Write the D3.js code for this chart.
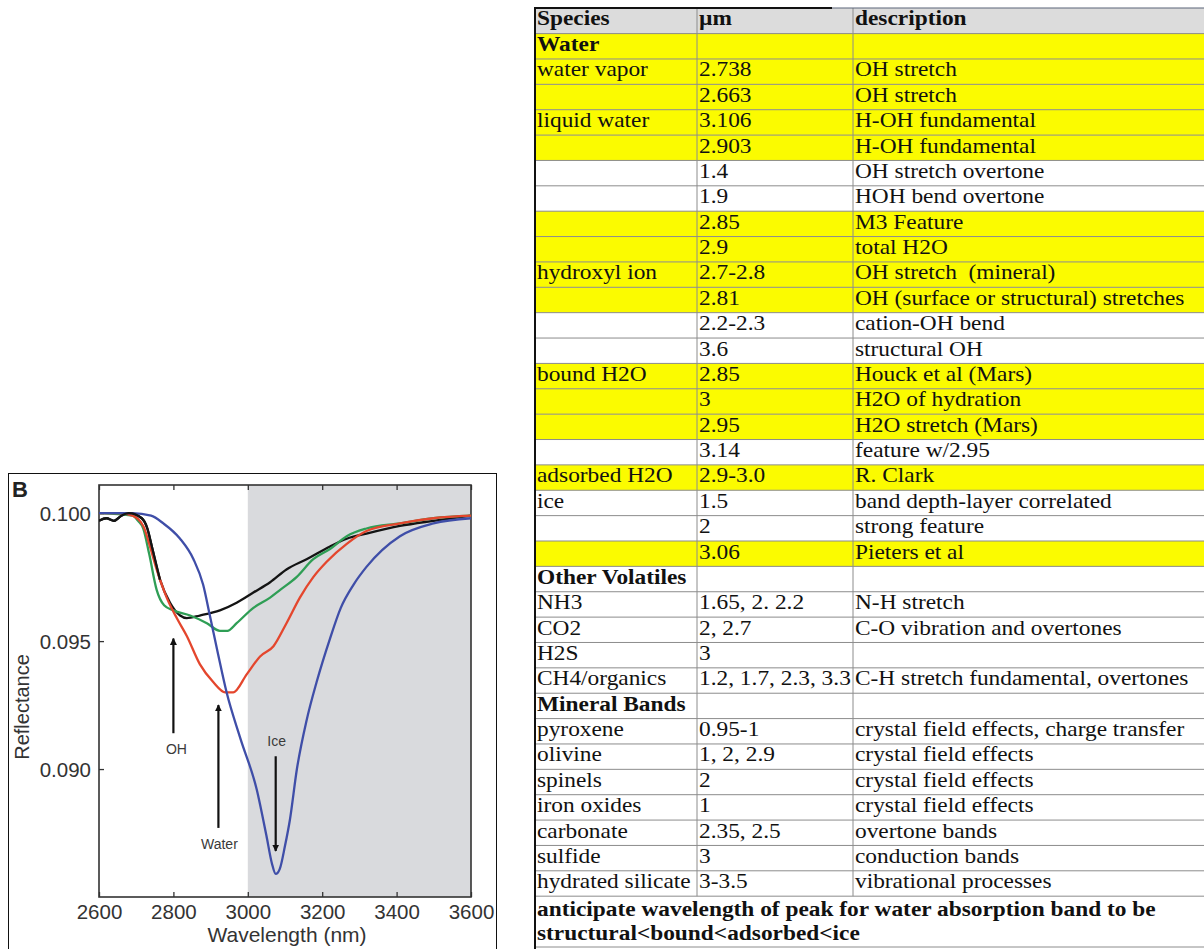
<!DOCTYPE html>
<html>
<head>
<meta charset="utf-8">
<script src="https://cdn.jsdelivr.net/npm/d3@7"></script>
<style>
  html, body { margin: 0; padding: 0; background: #fff; }
  svg { display: block; }
</style>
</head>
<body>
<svg id="c" width="1204" height="949"></svg>
<script>
// ---------------- DATA ----------------
const xTicks = [2600, 2800, 3000, 3200, 3400, 3600];
const yTicks = [0.090, 0.095, 0.100];
const xLabel = "Wavelength (nm)";
const yLabel = "Reflectance";
const panelLabel = "B";
const shadeRange = [3000, 3600];

// [wavelength nm, reflectance]
const iceSeries = [
  [2600, 0.1000], [2690, 0.1000], [2740, 0.0999], [2773, 0.0996], [2818, 0.0990],
  [2854, 0.0982], [2880, 0.0972], [2898, 0.0960], [2920, 0.0945], [2943, 0.0930],
  [2980, 0.0912], [3024, 0.0892], [3050, 0.0874], [3065, 0.0863], [3075, 0.0859],
  [3086, 0.0861], [3100, 0.0870], [3113, 0.0880], [3132, 0.0900], [3158, 0.0919],
  [3185, 0.0934], [3221, 0.0951], [3250, 0.0963], [3284, 0.0972], [3319, 0.0979],
  [3409, 0.0991], [3499, 0.0996], [3600, 0.0998]
];
const waterSeries = [
  [2600, 0.1000], [2650, 0.1000], [2690, 0.0999], [2719, 0.0995], [2737, 0.0987],
  [2755, 0.0978], [2782, 0.0967], [2809, 0.0959], [2836, 0.0952], [2871, 0.0941],
  [2907, 0.0934], [2939, 0.0930], [2961, 0.0930], [2997, 0.0937], [3033, 0.0944],
  [3069, 0.0948], [3104, 0.0957], [3140, 0.0967], [3176, 0.0975], [3212, 0.0981],
  [3266, 0.0988], [3319, 0.0993], [3409, 0.0996], [3499, 0.0998], [3600, 0.0999]
];
const greenSeries = [
  [2600, 0.1000], [2690, 0.0999], [2705, 0.0997], [2719, 0.0994], [2735, 0.0984],
  [2755, 0.0970], [2775, 0.0964], [2800, 0.0962], [2845, 0.0960], [2890, 0.0957],
  [2925, 0.0954], [2945, 0.0954], [2970, 0.0957], [3015, 0.0963], [3060, 0.0967],
  [3087, 0.0970], [3131, 0.0975], [3176, 0.0982], [3221, 0.0986], [3266, 0.0991],
  [3319, 0.0994], [3409, 0.0996], [3499, 0.0998], [3600, 0.0999]
];
const blackSeries = [
  [2600, 0.0997], [2620, 0.0998], [2640, 0.0997], [2660, 0.0999], [2680, 0.1000],
  [2715, 0.0998], [2730, 0.0994], [2742, 0.0987], [2764, 0.0974], [2791, 0.0965],
  [2818, 0.0960], [2836, 0.0959], [2871, 0.0960], [2925, 0.0962], [2970, 0.0965],
  [3015, 0.0969], [3060, 0.0973], [3104, 0.0978], [3158, 0.0982], [3221, 0.0987],
  [3266, 0.0990], [3319, 0.0992], [3409, 0.0995], [3499, 0.0997], [3600, 0.0999]
];

// arrows: label, wavelength, reflectance at tail, reflectance at head
const arrowLabels = ["OH", "Water", "Ice"];
const arrowWl = [2800, 2921, 3075];
const arrowFrom = [0.09140, 0.08770, 0.09050];
const arrowTo = [0.09510, 0.09250, 0.08680];

// table
const tableHeader = ["Species", "µm", "description"];
const tableRows = [
  ["Water", "", ""],
  ["water vapor", "2.738", "OH stretch"],
  ["", "2.663", "OH stretch"],
  ["liquid water", "3.106", "H-OH fundamental"],
  ["", "2.903", "H-OH fundamental"],
  ["", "1.4", "OH stretch overtone"],
  ["", "1.9", "HOH bend overtone"],
  ["", "2.85", "M3 Feature"],
  ["", "2.9", "total H2O"],
  ["hydroxyl ion", "2.7-2.8", "OH stretch  (mineral)"],
  ["", "2.81", "OH (surface or structural) stretches"],
  ["", "2.2-2.3", "cation-OH bend"],
  ["", "3.6", "structural OH"],
  ["bound H2O", "2.85", "Houck et al (Mars)"],
  ["", "3", "H2O of hydration"],
  ["", "2.95", "H2O stretch (Mars)"],
  ["", "3.14", "feature w/2.95"],
  ["adsorbed H2O", "2.9-3.0", "R. Clark"],
  ["ice", "1.5", "band depth-layer correlated"],
  ["", "2", "strong feature"],
  ["", "3.06", "Pieters et al"],
  ["Other Volatiles", "", ""],
  ["NH3", "1.65, 2. 2.2", "N-H stretch"],
  ["CO2", "2, 2.7", "C-O vibration and overtones"],
  ["H2S", "3", ""],
  ["CH4/organics", "1.2, 1.7, 2.3, 3.3", "C-H stretch fundamental, overtones"],
  ["Mineral Bands", "", ""],
  ["pyroxene", "0.95-1", "crystal field effects, charge transfer"],
  ["olivine", "1, 2, 2.9", "crystal field effects"],
  ["spinels", "2", "crystal field effects"],
  ["iron oxides", "1", "crystal field effects"],
  ["carbonate", "2.35, 2.5", "overtone bands"],
  ["sulfide", "3", "conduction bands"],
  ["hydrated silicate", "3-3.5", "vibrational processes"]
];
const highlightedRows = [0,1,2,3,4,7,8,9,10,13,14,15,17,20];
const sectionRows = [0, 21, 26];
const footnoteLines = [
  "anticipate wavelength of peak for water absorption band to be",
  "structural<bound<adsorbed<ice"
];

// ---------------- DRAW ----------------
const svg = d3.select("#c");
const sansFont = "'Liberation Sans', Arial, Helvetica, sans-serif";
const serifFont = "'Liberation Serif', 'Times New Roman', Times, serif";

// ===== Chart panel =====
const P = { left: 99, right: 471, top: 485, bottom: 897 };
const x = d3.scaleLinear().domain([2600, 3600]).range([P.left, P.right]);
const y = d3.scaleLinear().domain([0.085, 0.1011]).range([P.bottom, P.top]);

// outer frame
svg.append("rect").attr("x", 8.5).attr("y", 473.5).attr("width", 488).attr("height", 480)
  .attr("fill", "#fff").attr("stroke", "#111").attr("stroke-width", 1);

// shaded region
svg.append("rect")
  .attr("x", x(shadeRange[0])).attr("y", P.top)
  .attr("width", x(shadeRange[1]) - x(shadeRange[0]))
  .attr("height", P.bottom - P.top)
  .attr("fill", "#d9dadd");

// axes (ticks inward)
const gx = svg.append("g").attr("transform", `translate(0,${P.bottom})`)
  .call(d3.axisBottom(x).tickValues(xTicks).tickSize(-5).tickPadding(7).tickFormat(d3.format("d")));
const gxTop = svg.append("g").attr("transform", `translate(0,${P.top})`)
  .call(d3.axisTop(x).tickValues(xTicks).tickSize(-5).tickFormat(""));
const gy = svg.append("g").attr("transform", `translate(${P.left},0)`)
  .call(d3.axisLeft(y).tickValues(yTicks).tickSize(-5).tickPadding(8).tickFormat(d3.format(".3f")));
[gx, gxTop, gy].forEach(g => {
  g.select(".domain").remove();
  g.selectAll(".tick line").attr("stroke", "#333").attr("stroke-width", 1.3);
  g.selectAll(".tick text").attr("fill", "#333").attr("font-family", sansFont).attr("font-size", 20.5);
});
gy.selectAll(".tick text").attr("dy", "0.36em");

// plot frame
svg.append("rect").attr("x", P.left).attr("y", P.top)
  .attr("width", P.right - P.left).attr("height", P.bottom - P.top)
  .attr("fill", "none").attr("stroke", "#333").attr("stroke-width", 1.6);

// curves
const line = d3.line().x(d => x(d[0])).y(d => y(d[1])).curve(d3.curveMonotoneX);
svg.append("clipPath").attr("id", "pc").append("rect")
  .attr("x", P.left).attr("y", P.top).attr("width", P.right - P.left).attr("height", P.bottom - P.top);
const curves = [
  { data: blackSeries, color: "#141414" },
  { data: greenSeries, color: "#2f9e55" },
  { data: waterSeries, color: "#e4462d" },
  { data: iceSeries, color: "#3f4ea8" }
];
svg.append("g").attr("clip-path", "url(#pc)").selectAll("path").data(curves).join("path")
  .attr("d", d => line(d.data)).attr("fill", "none")
  .attr("stroke", d => d.color).attr("stroke-width", 2.3).attr("stroke-linejoin", "round");
svg.append("path").attr("clip-path", "url(#pc)").attr("d", line(blackSeries.slice(0, 9)))
  .attr("fill", "none").attr("stroke", "#141414").attr("stroke-width", 2.3);

// arrows
const defs = svg.append("defs");
defs.append("marker").attr("id", "ah").attr("viewBox", "0 0 10 10")
  .attr("refX", 9).attr("refY", 5).attr("markerWidth", 3.2).attr("markerHeight", 3.2)
  .attr("orient", "auto")
  .append("path").attr("d", "M0,0 L10,5 L0,10 z").attr("fill", "#111");
arrowLabels.forEach((lab, i) => {
  svg.append("line")
    .attr("x1", x(arrowWl[i])).attr("y1", y(arrowFrom[i]))
    .attr("x2", x(arrowWl[i])).attr("y2", y(arrowTo[i]))
    .attr("stroke", "#111").attr("stroke-width", 2.2).attr("marker-end", "url(#ah)");
  const down = arrowTo[i] < arrowFrom[i];
  svg.append("text")
    .attr("x", x(arrowWl[i]) + (lab === "OH" ? 3 : 1))
    .attr("y", down ? y(arrowFrom[i]) - 10 : y(arrowFrom[i]) + 21)
    .attr("text-anchor", "middle").attr("font-family", sansFont)
    .attr("font-size", 14).attr("fill", "#3a3a3a")
    .text(lab);
});

// labels
svg.append("text").attr("x", 12).attr("y", 497).attr("font-family", sansFont)
  .attr("font-weight", "bold").attr("font-size", 22).attr("fill", "#222").text(panelLabel);
svg.append("text").attr("transform", `translate(29,${(P.top + P.bottom) / 2 + 16}) rotate(-90)`)
  .attr("text-anchor", "middle").attr("font-family", sansFont).attr("font-size", 20)
  .attr("fill", "#333").text(yLabel);
svg.append("text").attr("x", (P.left + P.right) / 2 + 2).attr("y", 942)
  .attr("text-anchor", "middle").attr("font-family", sansFont).attr("font-size", 21)
  .attr("fill", "#333").text(xLabel);

// ===== Table =====
const T = { left: 535, right: 1204, top: 8, headBottom: 33.6, rowH: 25.37 };
const colX = [535, 697, 853];
const rowTop = i => T.headBottom + i * T.rowH;
const tableBottomRows = rowTop(tableRows.length);
const tableEnd = 947;
const sx = 1.14;
const tg = svg.append("g");

// backgrounds
tg.append("rect").attr("x", T.left).attr("y", T.top).attr("width", T.right - T.left)
  .attr("height", T.headBottom - T.top).attr("fill", "#dcdcdc");
tg.selectAll("rect.hl").data(highlightedRows).join("rect").attr("class", "hl")
  .attr("x", T.left).attr("y", d => rowTop(d)).attr("width", T.right - T.left)
  .attr("height", T.rowH).attr("fill", "#fbfb00");

// grid lines
const hLines = d3.range(tableRows.length + 1).map(rowTop).concat([tableEnd]);
tg.selectAll("line.h").data(hLines).join("line").attr("class", "h")
  .attr("x1", T.left).attr("x2", T.right).attr("y1", d => d).attr("y2", d => d)
  .attr("stroke", "#8c8c8c").attr("stroke-width", 1);
tg.selectAll("line.v").data(colX.slice(1)).join("line").attr("class", "v")
  .attr("x1", d => d).attr("x2", d => d).attr("y1", T.top).attr("y2", tableBottomRows)
  .attr("stroke", "#8c8c8c").attr("stroke-width", 1);
// top border
tg.append("line").attr("x1", T.left).attr("x2", 832).attr("y1", T.top).attr("y2", T.top)
  .attr("stroke", "#111").attr("stroke-width", 2);
tg.append("line").attr("x1", 832).attr("x2", T.right).attr("y1", T.top).attr("y2", T.top)
  .attr("stroke", "#5a6478").attr("stroke-width", 1.2);
// left border
tg.append("line").attr("x1", T.left).attr("x2", T.left).attr("y1", T.top - 1).attr("y2", 949)
  .attr("stroke", "#111").attr("stroke-width", 2);

function cellText(tx, ty, str, bold) {
  tg.append("text").attr("transform", `translate(${tx},${ty}) scale(${sx},1)`)
    .attr("font-family", serifFont).attr("font-size", 20.5)
    .attr("font-weight", bold ? "bold" : "normal").attr("fill", "#111")
    .style("white-space", "pre").text(str);
}
tableHeader.forEach((h, j) => cellText(colX[j] + 2, T.top + 17, h, true));
tableRows.forEach((r, i) => {
  const bold = sectionRows.includes(i);
  r.forEach((c, j) => { if (c) cellText(colX[j] + 2, rowTop(i) + 17.5, c, bold); });
});
footnoteLines.forEach((t, k) => cellText(colX[0] + 2, tableBottomRows + 19.5 + k * 24, t, true));
</script>
</body>
</html>
